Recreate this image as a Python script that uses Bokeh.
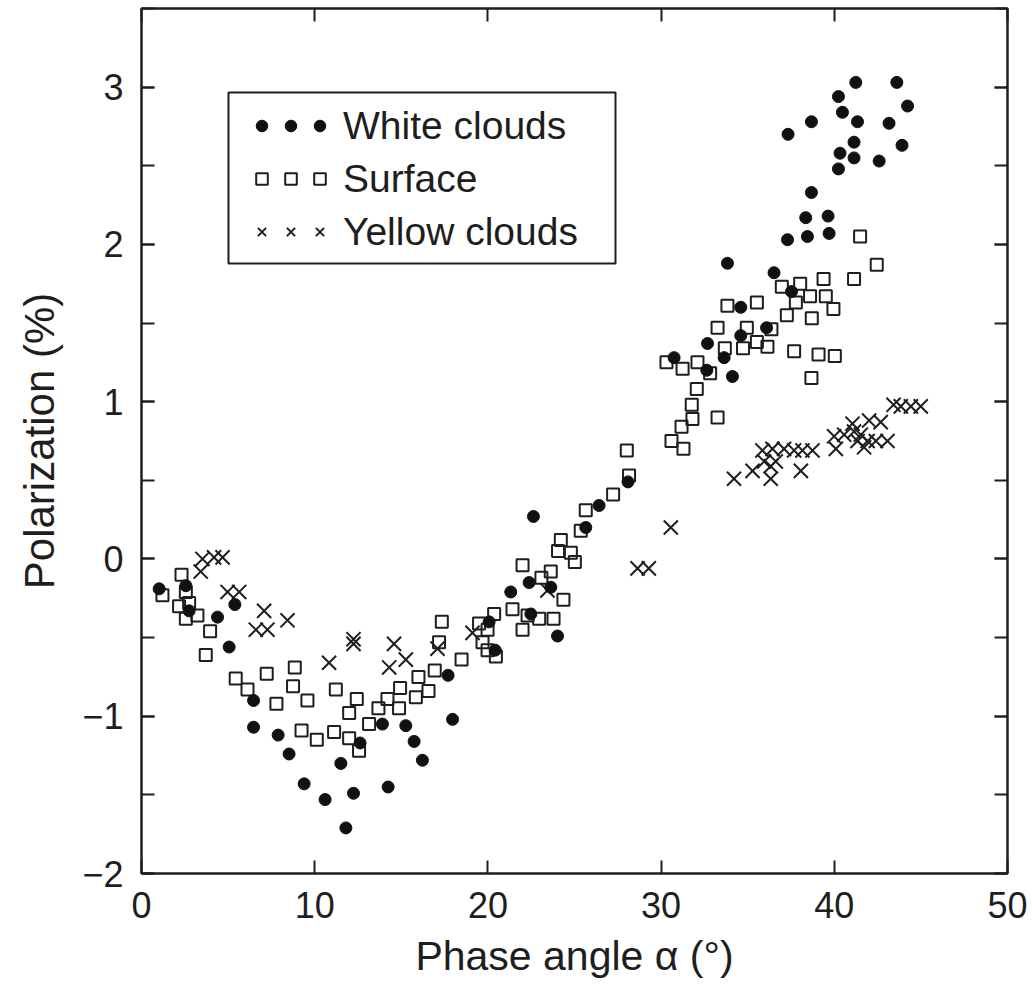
from bokeh.plotting import figure
from bokeh.models import (Range1d, LinearAxis, SingleIntervalTicker, FixedTicker,
                          Legend, LegendItem, BoxAnnotation)
from bokeh.core.properties import value
from bokeh.embed import file_html
from bokeh.resources import INLINE

# ---- data (phase angle in degrees, polarization in %) ----
white_x = [1.02, 2.56, 2.75, 5.39, 4.39, 5.06, 6.47, 6.47, 7.89, 8.52, 9.39, 10.60, 11.51, 11.80,
           12.24, 12.62, 13.91, 14.24, 15.26, 15.74, 16.22, 17.70, 17.96, 20.07, 20.42, 21.32,
           22.38, 22.63, 22.48, 23.63, 24.02, 25.65, 26.42, 28.09, 30.75, 32.64, 32.68, 33.64,
           34.12, 33.83, 34.60, 34.60, 36.09, 36.52, 37.53, 37.30, 38.45, 39.70, 38.35, 39.64,
           38.68, 40.24, 40.33, 41.14, 42.59, 41.14, 43.91, 37.33, 38.68, 41.34, 43.16, 40.47,
           40.24, 44.23, 41.24, 43.61]
white_y = [-0.19, -0.17, -0.33, -0.29, -0.37, -0.56, -0.90, -1.07, -1.12, -1.24, -1.43, -1.53,
           -1.30, -1.71, -1.49, -1.17, -1.05, -1.45, -1.06, -1.16, -1.28, -0.74, -1.02, -0.40,
           -0.58, -0.21, -0.15, 0.27, -0.35, -0.18, -0.49, 0.20, 0.34, 0.49, 1.28, 1.20, 1.37,
           1.28, 1.16, 1.88, 1.60, 1.42, 1.47, 1.82, 1.70, 2.03, 2.05, 2.07, 2.17, 2.18, 2.33,
           2.48, 2.58, 2.55, 2.53, 2.65, 2.63, 2.70, 2.78, 2.78, 2.77, 2.84, 2.94, 2.88, 3.03,
           3.03]

surface_x = [1.21, 2.31, 2.56, 2.17, 2.75, 2.56, 3.23, 3.96, 3.71, 5.44, 6.12, 7.23, 7.79, 8.85,
             8.75, 9.58, 11.22, 9.24, 10.12, 11.12, 11.99, 11.99, 12.43, 12.56, 13.14, 13.68,
             14.20, 14.87, 14.93, 15.84, 16.57, 15.99, 16.93, 17.18, 17.34, 18.48, 19.49, 19.98,
             19.69, 19.98, 20.46, 20.36, 21.42, 22.00, 22.29, 22.00, 22.96, 23.79, 23.09, 23.63,
             24.36, 24.21, 24.05, 24.79, 25.02, 25.36, 25.65, 27.23, 28.15, 28.02, 30.31, 31.24,
             32.10, 32.83, 32.06, 31.77, 31.81, 31.18, 33.26, 30.60, 31.29, 33.68, 33.26, 33.83,
             34.73, 34.95, 35.53, 35.53, 36.14, 36.37, 36.97, 37.26, 37.78, 38.03, 38.60, 38.70,
             37.68, 38.68, 39.09, 40.03, 39.51, 39.38, 39.95, 41.14, 41.49, 42.45]
surface_y = [-0.23, -0.10, -0.21, -0.30, -0.28, -0.38, -0.36, -0.46, -0.61, -0.76, -0.83, -0.73,
             -0.92, -0.69, -0.81, -0.90, -0.83, -1.09, -1.15, -1.10, -1.14, -0.98, -0.89, -1.22,
             -1.05, -0.95, -0.89, -0.95, -0.82, -0.88, -0.84, -0.75, -0.71, -0.53, -0.40, -0.64,
             -0.41, -0.45, -0.53, -0.58, -0.62, -0.35, -0.32, -0.45, -0.36, -0.04, -0.38, -0.38,
             -0.12, -0.08, -0.26, 0.12, 0.05, 0.04, -0.02, 0.18, 0.31, 0.41, 0.53, 0.69, 1.25,
             1.21, 1.25, 1.18, 1.08, 0.98, 0.89, 0.84, 0.90, 0.75, 0.70, 1.34, 1.47, 1.61, 1.34,
             1.47, 1.63, 1.38, 1.35, 1.46, 1.73, 1.55, 1.63, 1.75, 1.67, 1.53, 1.32, 1.15, 1.30,
             1.29, 1.67, 1.78, 1.59, 1.78, 2.05, 1.87]

yellow_x = [3.52, 4.19, 4.68, 3.42, 4.97, 5.64, 7.08, 6.60, 7.27, 8.43, 10.83, 12.24, 12.24,
            14.58, 15.26, 14.30, 17.09, 19.11, 23.44, 28.64, 29.29, 30.56, 34.21, 35.28, 36.33,
            35.95, 36.62, 36.33, 35.85, 36.43, 37.10, 37.68, 38.16, 38.74, 38.07, 40.09, 39.99,
            40.57, 41.14, 41.53, 41.34, 41.92, 42.40, 43.07, 41.72, 41.05, 42.01, 42.68, 43.42,
            43.84, 44.42, 44.99]
yellow_y = [0.00, 0.01, 0.01, -0.08, -0.21, -0.21, -0.33, -0.45, -0.45, -0.39, -0.66, -0.51,
            -0.54, -0.54, -0.64, -0.69, -0.57, -0.47, -0.20, -0.06, -0.06, 0.20, 0.51, 0.56,
            0.51, 0.62, 0.62, 0.59, 0.69, 0.70, 0.70, 0.69, 0.69, 0.69, 0.56, 0.70, 0.78, 0.79,
            0.81, 0.79, 0.75, 0.75, 0.75, 0.75, 0.71, 0.86, 0.88, 0.87, 0.98, 0.97, 0.97, 0.97]

series_labels = ["White clouds", "Surface", "Yellow clouds"]
x_ticks = [0, 10, 20, 30, 40, 50]

INK = "#1e1e1e"
FONT = "Liberation Sans"

p = figure(width=1032, height=995, output_backend="svg", toolbar_location=None,
           x_range=Range1d(0, 50), y_range=Range1d(-2, 3.5),
           min_border_left=141, min_border_right=25, min_border_top=8, min_border_bottom=122,
           x_axis_label="Phase angle α (°)", y_axis_label="Polarization (%)")
p.grid.visible = False
p.background_fill_color = "white"
p.border_fill_color = "white"
p.outline_line_color = INK
p.outline_line_width = 2

# glyphs
r_s = p.scatter(surface_x, surface_y, marker="square", size=12, fill_alpha=0,
                line_color=INK, line_width=2)
r_y = p.scatter(yellow_x, yellow_y, marker="x", size=20, line_color=INK, line_width=2)
r_w = p.scatter(white_x, white_y, marker="circle", size=12, fill_color="#111111",
                line_color="#111111")


def style_axis(ax, labels=True):
    ax.axis_line_color = INK
    ax.axis_line_width = 2
    ax.major_tick_line_color = INK
    ax.minor_tick_line_color = INK
    ax.major_tick_line_width = 2
    ax.minor_tick_line_width = 2
    ax.major_tick_in = 13
    ax.major_tick_out = 0
    ax.minor_tick_in = 13
    ax.minor_tick_out = 0
    if labels:
        ax.major_label_text_font = FONT
        ax.major_label_text_font_size = "36px"
        ax.major_label_text_color = INK
    else:
        ax.major_label_text_font_size = "1px"
        ax.major_label_text_color = None
        ax.major_label_text_alpha = 0
        ax.major_label_standoff = 0


# x axis (bottom)
xa = p.xaxis[0]
xa.ticker = FixedTicker(ticks=x_ticks)
style_axis(xa)
xa.major_label_standoff = 18
xa.axis_label_text_font = FONT
xa.axis_label_text_font_size = "41px"
xa.axis_label_text_font_style = "normal"
xa.axis_label_text_color = INK
xa.axis_label_standoff = 12

# y axis (left)
ya = p.yaxis[0]
ya.ticker = SingleIntervalTicker(interval=1, num_minor_ticks=2)
style_axis(ya)
ya.major_label_standoff = 18
ya.major_label_overrides = {-1: "−1", -2: "−2"}
ya.axis_label_text_font = FONT
ya.axis_label_text_font_size = "42px"
ya.axis_label_text_font_style = "normal"
ya.axis_label_text_color = INK
ya.axis_label_standoff = 16

# right and top axes: ticks only
ra = LinearAxis(ticker=SingleIntervalTicker(interval=1, num_minor_ticks=2))
style_axis(ra, labels=False)
p.add_layout(ra, "right")
ta = LinearAxis(ticker=FixedTicker(ticks=x_ticks))
style_axis(ta, labels=False)
p.add_layout(ta, "above")

# legend frame
frame_box = BoxAnnotation(left=87, right=474, bottom=610, top=781,
                          left_units="screen", right_units="screen",
                          bottom_units="screen", top_units="screen",
                          fill_color="white", fill_alpha=1,
                          line_color=INK, line_width=2, line_alpha=1)
p.add_layout(frame_box)

# legend markers: three per row
marker_items = []
for r in [r_w, r_s, r_y]:
    for _ in range(3):
        marker_items.append(LegendItem(label=value(""), renderers=[r]))
leg_markers = Legend(items=marker_items, ncols=3, orientation="horizontal",
                     location=(106, 615), glyph_width=29, glyph_height=53,
                     label_standoff=0, spacing=0, label_width=0, label_height=0,
                     padding=0, margin=0, label_text_font_size="1px",
                     label_text_alpha=0, label_text_color=None,
                     border_line_color=None, background_fill_alpha=0)
p.add_layout(leg_markers, "center")

# legend labels
label_items = [LegendItem(label=value(lab), renderers=[r])
               for r, lab in zip([r_w, r_s, r_y], series_labels)]
leg_labels = Legend(items=label_items, location=(202, 615),
                    glyph_width=0, glyph_height=53, label_standoff=0, spacing=0,
                    label_width=0, label_height=53, padding=0, margin=0,
                    label_text_font=FONT, label_text_font_size="39px",
                    label_text_color=INK, border_line_color=None,
                    background_fill_alpha=0)
p.add_layout(leg_labels, "center")

open("out.html", "w").write(file_html(p, INLINE))
